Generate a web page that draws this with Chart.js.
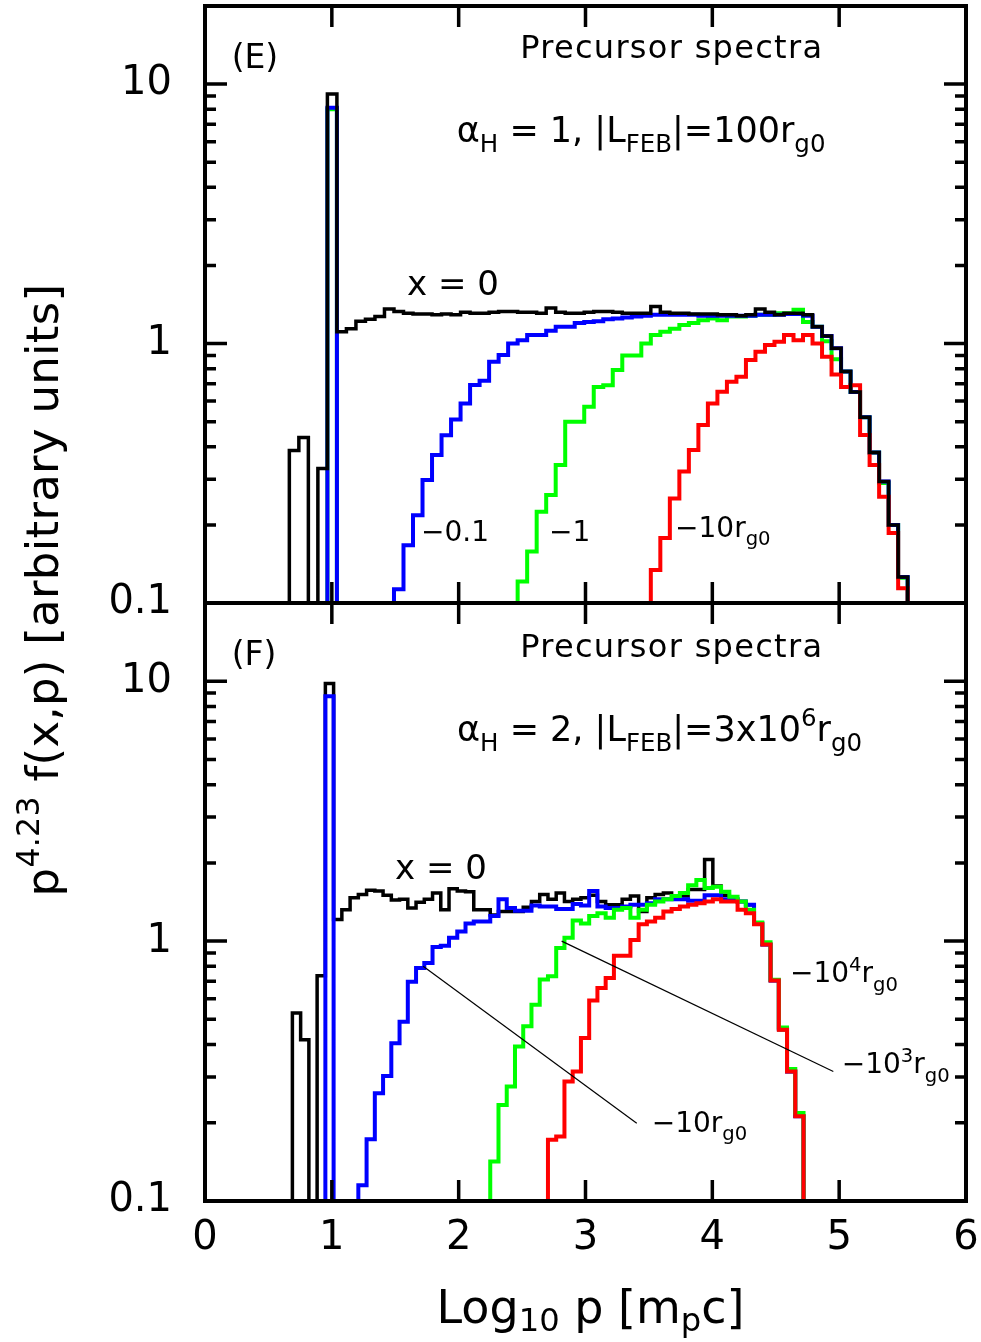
<!DOCTYPE html>
<html>
<head>
<meta charset="utf-8">
<title>Precursor spectra</title>
<script src="https://cdn.jsdelivr.net/npm/chart.js@4.4.1/dist/chart.umd.min.js"></script>
<style>
  html, body { margin:0; padding:0; background:#ffffff; }
  #wrap { position:relative; width:981px; height:1342px; overflow:hidden; background:#fff; }
  #wrap canvas { position:absolute; left:0; top:0; }
</style>
</head>
<body>
<div id="wrap">
  <canvas id="chartE" width="981" height="1342"></canvas>
  <canvas id="chartF" width="981" height="1342"></canvas>
</div>
<script>
// ---------------- axis ticks ----------------
const xTickValues = [0, 1, 2, 3, 4, 5, 6];
const xTickLabels = ['0', '1', '2', '3', '4', '5', '6'];
const yTickValues = [0.1, 1, 10];
const yTickLabels = ['0.1', '1', '10'];
const xMajorTicks = [1, 2, 3, 4, 5];
const yMajorTicks = [1, 10];
const yMinorTicks = [0.2, 0.3, 0.4, 0.5, 0.6, 0.7, 0.8, 0.9, 2, 3, 4, 5, 6, 7, 8, 9];

// ---------------- panel (E): bin edges in log10 p ----------------
const binEdgesE = [0.590,0.665,0.740,0.815,0.890,0.965,1.040,1.115,1.190,1.265,1.340,1.415,1.490,1.565,1.640,1.715,1.790,1.865,1.940,2.015,2.090,2.165,2.240,2.315,2.390,2.465,2.540,2.615,2.690,2.765,2.840,2.915,2.990,3.065,3.140,3.215,3.290,3.365,3.440,3.515,3.590,3.665,3.740,3.815,3.890,3.965,4.040,4.115,4.190,4.265,4.340,4.415,4.490,4.565,4.640,4.715,4.790,4.865,4.940,5.015,5.090,5.165,5.240,5.315,5.390,5.465,5.540];

// x = 0 (black)
const blackEStart = 0.665;
const blackEValues = [0.387,0.434,0,0.33,9.15,1.11,1.14,1.22,1.24,1.27,1.36,1.33,1.31,1.30,1.30,1.29,1.30,1.29,1.32,1.31,1.31,1.32,1.33,1.33,1.32,1.32,1.31,1.37,1.32,1.31,1.31,1.32,1.33,1.33,1.32,1.31,1.31,1.31,1.39,1.32,1.31,1.31,1.30,1.30,1.30,1.29,1.29,1.28,1.29,1.36,1.32,1.29,1.31,1.31,1.29,1.16,1.07,0.96,0.78,0.65,0.52,0.38,0.294,0.20,0.126];
// x = -0.1 rg0 (blue)
const blueEStart = 0.965;
const blueEValues = [8.1,0,0,0,0,0,0,0.113,0.167,0.218,0.298,0.372,0.443,0.510,0.588,0.692,0.719,0.851,0.903,1.00,1.03,1.08,1.08,1.12,1.16,1.16,1.20,1.21,1.22,1.24,1.25,1.26,1.27,1.28,1.29,1.29,1.29,1.29,1.29,1.28,1.28,1.28,1.28,1.28,1.28,1.29,1.29,1.29,1.30,1.30,1.28,1.16,1.07,0.96,0.78,0.65,0.52,0.38,0.294,0.20,0.126];
// x = -1 rg0 (green)
const greenEStart = 0.965;
const greenEValues = [8.0,0,0,0,0,0,0,0,0,0,0,0,0,0,0,0,0,0,0,0,0.121,0.158,0.225,0.261,0.34,0.50,0.50,0.571,0.68,0.69,0.79,0.90,0.90,1.00,1.078,1.11,1.14,1.18,1.20,1.23,1.25,1.23,1.27,1.27,1.28,1.29,1.29,1.31,1.31,1.35,1.21,1.16,1.02,0.87,0.78,0.65,0.52,0.38,0.29,0.20,0.125];
// x = -10 rg0 (red)
const redEStart = 3.515;
const redEValues = [0.134,0.178,0.253,0.321,0.389,0.485,0.588,0.652,0.713,0.745,0.864,0.930,0.987,1.016,1.078,1.03,1.078,1.00,0.89,0.76,0.68,0.69,0.444,0.34,0.257,0.186,0.114];

// ---------------- panel (F): bin edges in log10 p ----------------
const binEdgesF = [0.689,0.754,0.819,0.884,0.949,1.014,1.079,1.144,1.209,1.274,1.339,1.404,1.469,1.534,1.599,1.664,1.729,1.794,1.859,1.924,1.989,2.054,2.119,2.184,2.249,2.314,2.379,2.444,2.509,2.574,2.639,2.704,2.769,2.834,2.899,2.964,3.029,3.094,3.159,3.224,3.289,3.354,3.419,3.484,3.549,3.614,3.679,3.744,3.809,3.874,3.939,4.004,4.069,4.134,4.199,4.264,4.329,4.394,4.459,4.524,4.589,4.654,4.719,4.784];

// x = 0 (black)
const blackFStart = 0.689;
const blackFValues = [0.529,0.417,0,0.736,9.8,1.21,1.32,1.47,1.51,1.57,1.56,1.50,1.44,1.45,1.34,1.41,1.45,1.53,1.32,1.59,1.56,1.55,1.32,1.32,1.26,1.30,1.30,1.30,1.35,1.42,1.51,1.45,1.53,1.42,1.45,1.47,1.50,1.42,1.38,1.38,1.45,1.49,1.30,1.47,1.51,1.53,1.49,1.49,1.58,1.58,2.06,1.63,1.50,1.45,1.42,1.38,1.17,0.97,0.705,0.456,0.315,0.212];
// x = -10 rg0 (blue)
const blueFStart = 0.949;
const blueFValues = [8.76,0,0,0,0.115,0.173,0.260,0.303,0.405,0.489,0.697,0.788,0.824,0.950,0.96,1.03,1.09,1.17,1.19,1.19,1.25,1.45,1.34,1.31,1.31,1.37,1.36,1.36,1.33,1.33,1.39,1.37,1.56,1.36,1.34,1.34,1.36,1.38,1.38,1.40,1.45,1.45,1.45,1.45,1.43,1.43,1.50,1.50,1.45,1.45,1.42,1.38,1.17,0.97,0.705,0.46,0.315,0.212];
// x = -10^3 rg0 (green)
const greenFStart = 2.249;
const greenFValues = [0.142,0.234,0.276,0.393,0.47,0.569,0.711,0.732,0.94,1.03,1.20,1.17,1.25,1.28,1.23,1.32,1.34,1.23,1.32,1.38,1.42,1.45,1.49,1.53,1.64,1.72,1.60,1.62,1.55,1.48,1.42,1.32,1.18,0.99,0.71,0.465,0.322,0.218];
// x = -10^4 rg0 (red)
const redFStart = 2.704;
const redFValues = [0.172,0.177,0.288,0.315,0.424,0.591,0.66,0.722,0.879,0.879,1.01,1.16,1.19,1.23,1.30,1.33,1.36,1.38,1.40,1.42,1.45,1.42,1.42,1.32,1.28,1.16,0.97,0.705,0.456,0.315,0.212];

// leader lines in panel F: [x1, y1, x2, y2] in data units
const leaderLinesF = [[1.72, 0.80, 3.404, 0.199], [2.812, 1.0, 4.954, 0.315]];

// text annotations (data coordinates, text baseline)
const notesE = [
  { text: '(E)', x: 0.21, y: 11.5, size: 33 },
  { text: 'Precursor spectra', x: 3.68, y: 12.56, size: 32, align: 'center', spacing: 1.3 },
  { text: 'α_{H} = 1, |L_{FEB}|=100r_{g0}', x: 1.985, y: 6.0, size: 35 },
  { text: 'x = 0', x: 1.593, y: 1.54, size: 34 },
  { text: '−0.1', x: 1.703, y: 0.174, size: 28 },
  { text: '−1', x: 2.712, y: 0.174, size: 28 },
  { text: '−10r_{g0}', x: 3.706, y: 0.18, size: 28 }
];
const notesF = [
  { text: '(F)', x: 0.21, y: 11.5, size: 33 },
  { text: 'Precursor spectra', x: 3.68, y: 12.4, size: 32, align: 'center', spacing: 1.3 },
  { text: 'α_{H} = 2, |L_{FEB}|=3x10^{6}r_{g0}', x: 1.987, y: 5.9, size: 35 },
  { text: 'x = 0', x: 1.498, y: 1.73, size: 34 },
  { text: '−10^{4}r_{g0}', x: 4.612, y: 0.694, size: 28 },
  { text: '−10^{3}r_{g0}', x: 5.02, y: 0.31, size: 28 },
  { text: '−10r_{g0}', x: 3.522, y: 0.185, size: 28 }
];
const xTitle = 'Log_{10} p [m_{p}c]';
const yTitle = 'p^{4.23} f(x,p) [arbitrary units]';

// ---------------- helpers ----------------
const FONT = '"DejaVu Sans", sans-serif';
const FLOOR = 1e-4; // empty bins fall below the 0.1 axis floor (clipped at the axis)

function histPoints(edges, start, values) {
  const i0 = edges.findIndex(e => Math.abs(e - start) < 1e-6);
  const pts = [{ x: edges[i0], y: FLOOR }];
  values.forEach((v, k) => pts.push({ x: edges[i0 + k], y: v > 0 ? v : FLOOR }));
  pts.push({ x: edges[i0 + values.length], y: FLOOR });
  return pts;
}

function histDataset(edges, start, values, color, width) {
  return {
    data: histPoints(edges, start, values),
    borderColor: color, backgroundColor: color, borderWidth: width,
    stepped: 'before', pointRadius: 0, fill: false, tension: 0, spanGaps: false
  };
}

function parseRich(str) {
  const out = []; let cur = ''; let i = 0;
  while (i < str.length) {
    const c = str[i];
    if ((c === '_' || c === '^') && str[i + 1] === '{') {
      if (cur) { out.push({ t: cur, m: 0 }); cur = ''; }
      const j = str.indexOf('}', i);
      out.push({ t: str.slice(i + 2, j), m: c === '_' ? -1 : 1 });
      i = j + 1;
    } else { cur += c; i++; }
  }
  if (cur) out.push({ t: cur, m: 0 });
  return out;
}

function drawRich(ctx, str, x, y, size, align, spacing, subDrop) {
  const segs = parseRich(str);
  const drop = subDrop === undefined ? 0.3 : subDrop;
  let total = 0;
  segs.forEach(g => {
    g.fs = g.m ? size * 0.7 : size;
    ctx.font = g.fs + 'px ' + FONT;
    if ('letterSpacing' in ctx) ctx.letterSpacing = (spacing || 0) + 'px';
    g.w = ctx.measureText(g.t).width;
    total += g.w;
  });
  let cx = align === 'center' ? x - total / 2 : (align === 'right' ? x - total : x);
  ctx.textAlign = 'left';
  ctx.textBaseline = 'alphabetic';
  segs.forEach(g => {
    ctx.font = g.fs + 'px ' + FONT;
    if ('letterSpacing' in ctx) ctx.letterSpacing = (spacing || 0) + 'px';
    const dy = g.m < 0 ? size * drop : (g.m > 0 ? -size * 0.42 : 0);
    ctx.fillText(g.t, cx, y + dy);
    cx += g.w;
  });
  if ('letterSpacing' in ctx) ctx.letterSpacing = '0px';
}

// frame + inward ticks on all four sides
const frameTicks = {
  id: 'frameTicks',
  afterDatasetsDraw(chart) {
    const { ctx, chartArea: a, scales: { x, y } } = chart;
    ctx.save();
    ctx.strokeStyle = '#000';
    ctx.lineCap = 'butt';
    ctx.lineWidth = 3.5;
    ctx.beginPath();
    xMajorTicks.forEach(v => {
      const px = x.getPixelForValue(v);
      ctx.moveTo(px, a.bottom); ctx.lineTo(px, a.bottom - 21);
      ctx.moveTo(px, a.top); ctx.lineTo(px, a.top + 21);
    });
    yMajorTicks.forEach(v => {
      const py = y.getPixelForValue(v);
      ctx.moveTo(a.left, py); ctx.lineTo(a.left + 22, py);
      ctx.moveTo(a.right, py); ctx.lineTo(a.right - 22, py);
    });
    yMinorTicks.forEach(v => {
      const py = y.getPixelForValue(v);
      ctx.moveTo(a.left, py); ctx.lineTo(a.left + 11, py);
      ctx.moveTo(a.right, py); ctx.lineTo(a.right - 11, py);
    });
    ctx.stroke();
    ctx.lineWidth = 4;
    ctx.strokeRect(a.left, a.top, a.right - a.left, a.bottom - a.top);
    ctx.restore();
  }
};

// annotation text in data coordinates
const notesPlugin = {
  id: 'notes',
  afterDraw(chart, args, opts) {
    const { ctx, scales: { x, y }, chartArea: a } = chart;
    ctx.save();
    ctx.fillStyle = '#000';
    (opts.notes || []).forEach(n => {
      drawRich(ctx, n.text, x.getPixelForValue(n.x), y.getPixelForValue(n.y), n.size, n.align || 'left', n.spacing);
    });
    if (opts.axisTitles) {
      // x-axis title below panel F
      drawRich(ctx, xTitle, (a.left + a.right) / 2 + 5, a.bottom + 122, 46, 'center', 0, 0.18);
      // y-axis title, rotated, centred on both panels
      ctx.save();
      ctx.translate(58, 590);
      ctx.rotate(-Math.PI / 2);
      drawRich(ctx, yTitle, 0, 0, 45, 'center', 0.3);
      ctx.restore();
    }
    ctx.restore();
  }
};

function makeOptions(isF, notes) {
  return {
    responsive: false,
    animation: false,
    devicePixelRatio: 1,
    layout: { padding: { left: 0, right: 15, top: isF ? 603 : 6, bottom: isF ? 0 : 739 } },
    plugins: {
      legend: { display: false },
      tooltip: { enabled: false },
      title: { display: false },
      notes: { notes: notes, axisTitles: isF }
    },
    elements: { point: { radius: 0 }, line: { tension: 0 } },
    scales: {
      x: {
        type: 'linear', min: 0, max: 6, display: isF, position: 'bottom',
        grid: { display: false, drawTicks: false }, border: { display: false },
        afterBuildTicks: s => { s.ticks = xTickValues.map(v => ({ value: v })); },
        ticks: {
          autoSkip: false, maxRotation: 0, padding: 14, color: '#000',
          font: { family: 'DejaVu Sans', size: 40 },
          callback: v => xTickLabels[xTickValues.indexOf(v)]
        },
        afterFit: s => {
          s.height = isF ? 141 : 0;
          s.paddingLeft = 0; s.paddingRight = 0;
        }
      },
      y: {
        type: 'logarithmic', min: 0.1, max: 20, position: 'left',
        grid: { display: false, drawTicks: false }, border: { display: false },
        afterBuildTicks: s => { s.ticks = yTickValues.map(v => ({ value: v })); },
        ticks: {
          autoSkip: false, padding: 33, color: '#000',
          font: { family: 'DejaVu Sans', size: 40 },
          callback: v => {
            const i = yTickValues.findIndex(t => Math.abs(t - v) < 1e-9);
            return i >= 0 ? yTickLabels[i] : null;
          }
        },
        afterFit: s => { s.width = 205; s.paddingTop = 0; s.paddingBottom = 0; }
      }
    }
  };
}

// ---------------- panel (E) ----------------
new Chart(document.getElementById('chartE'), {
  type: 'line',
  data: {
    datasets: [
      histDataset(binEdgesE, blackEStart, blackEValues, '#000000', 3.5),
      histDataset(binEdgesE, redEStart, redEValues, '#ff0000', 4),
      histDataset(binEdgesE, blueEStart, blueEValues, '#0000ff', 4),
      histDataset(binEdgesE, greenEStart, greenEValues, '#00ff00', 4)
    ]
  },
  options: makeOptions(false, notesE),
  plugins: [frameTicks, notesPlugin]
});

// ---------------- panel (F) ----------------
const leaderSets = leaderLinesF.map(l => ({
  data: [{ x: l[0], y: l[1] }, { x: l[2], y: l[3] }],
  borderColor: '#000000', borderWidth: 1.2, pointRadius: 0, fill: false, stepped: false, tension: 0
}));
new Chart(document.getElementById('chartF'), {
  type: 'line',
  data: {
    datasets: leaderSets.concat([
      histDataset(binEdgesF, redFStart, redFValues, '#ff0000', 4),
      histDataset(binEdgesF, greenFStart, greenFValues, '#00ff00', 4),
      histDataset(binEdgesF, blueFStart, blueFValues, '#0000ff', 4),
      histDataset(binEdgesF, blackFStart, blackFValues, '#000000', 3.5)
    ])
  },
  options: makeOptions(true, notesF),
  plugins: [frameTicks, notesPlugin]
});
</script>
</body>
</html>
